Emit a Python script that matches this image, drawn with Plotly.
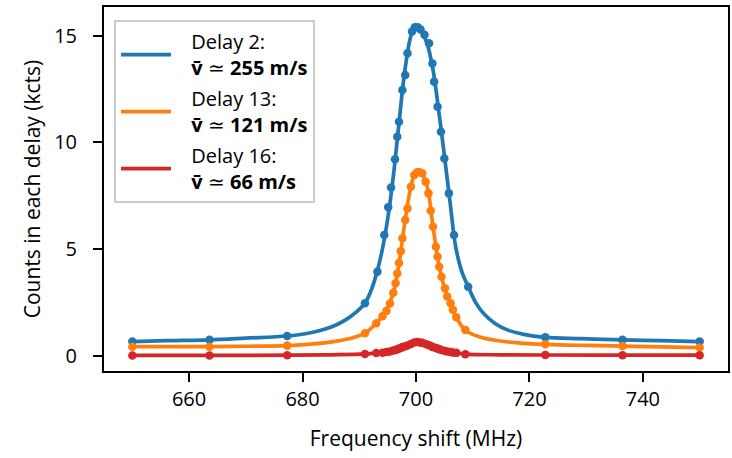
import plotly.graph_objects as go

# Measured spectra (frequency shift in MHz, counts in kcts)
freq_d2 = [650, 663.6, 677.3, 691.0, 693.2, 694.4, 695.1, 695.6, 696.3, 696.7, 697.0,
           697.6, 698.1, 698.5, 699.3, 699.8, 700.3, 700.8, 701.5, 702.3, 702.9, 703.2,
           703.8, 704.4, 705.0, 705.8, 706.7, 709.2, 722.8, 736.4, 750]
counts_d2 = [0.66, 0.74, 0.92, 2.46, 3.94, 5.66, 6.96, 7.88, 9.21, 10.27, 10.97,
             12.46, 13.16, 14.18, 15.2, 15.4, 15.4, 15.3, 15.05, 14.65, 13.7, 12.85,
             11.67, 10.50, 9.25, 7.61, 5.66, 3.23, 0.86, 0.74, 0.66]

freq_d13 = [650, 663.6, 677.3, 691.0, 693.0, 694.1, 694.8, 695.4, 696.0, 696.4, 696.7,
            697.0, 697.3, 697.6, 698.1, 698.5, 699.1, 699.7, 700.2, 700.7, 701.1, 701.7,
            702.2, 702.6, 703.0, 703.5, 703.8, 704.1, 704.5, 705.1, 705.5, 706.1, 706.5,
            707.1, 708.7, 722.8, 736.4, 750]
counts_d13 = [0.42, 0.42, 0.47, 1.05, 1.52, 1.85, 2.10, 2.45, 2.95, 3.40, 3.85,
              4.35, 4.90, 5.50, 6.36, 6.90, 7.92, 8.47, 8.60, 8.60, 8.55, 8.16,
              7.61, 6.80, 6.05, 5.11, 4.64, 4.17, 3.70, 3.16, 2.77, 2.46, 2.15,
              1.80, 1.20, 0.53, 0.45, 0.38]

freq_d16 = freq_d13
counts_d16 = [0.01, 0.01, 0.02, 0.08, 0.12, 0.14, 0.17, 0.20, 0.24, 0.27, 0.30,
              0.33, 0.36, 0.40, 0.44, 0.48, 0.55, 0.62, 0.64, 0.62, 0.60, 0.55,
              0.50, 0.45, 0.40, 0.36, 0.33, 0.30, 0.27, 0.22, 0.20, 0.17, 0.15,
              0.13, 0.07, 0.03, 0.02, 0.02]

# Fitted line profiles, sampled along each curve
fit_x_d2 = [650, 656, 663.6, 670, 677.3, 681, 684, 686, 688, 689.5, 691, 692, 693, 694,
            695, 696, 697, 698, 699, 699.7, 700.3, 701, 702, 703, 704, 705, 706, 707,
            708, 709.2, 710.5, 712, 714, 716, 719, 722.8, 729, 736.4, 743, 750]
fit_y_d2 = [0.66, 0.70, 0.74, 0.82, 0.92, 1.05, 1.25, 1.45, 1.75, 2.05, 2.46, 3.0, 3.8, 4.9,
            6.4, 8.4, 10.9, 13.3, 14.9, 15.4, 15.45, 15.2, 14.6, 13.4, 11.5, 9.4, 7.2, 5.1,
            4.0, 3.23, 2.5, 1.95, 1.5, 1.22, 1.0, 0.86, 0.8, 0.74, 0.7, 0.66]

fit_x_d13 = [650, 663.6, 670, 677.3, 682, 686, 689, 691, 693, 694.5, 696, 697, 698,
             699, 699.7, 700.4, 701.1, 702, 703, 704, 705, 706, 707, 708.7, 711, 714,
             718, 722.8, 730, 736.4, 750]
fit_y_d13 = [0.42, 0.42, 0.44, 0.47, 0.55, 0.68, 0.85, 1.05, 1.52, 2.0, 2.95, 4.3, 6.2,
             7.8, 8.45, 8.62, 8.5, 7.9, 6.05, 4.3, 3.2, 2.5, 1.85, 1.2, 0.9, 0.72,
             0.6, 0.53, 0.48, 0.45, 0.38]

fit_x_d16 = [650, 663.6, 677.3, 685, 691, 694, 696, 698, 699.5, 700.3, 701, 702.5,
             704, 706, 708.7, 715, 722.8, 736.4, 750]
fit_y_d16 = [0.01, 0.01, 0.02, 0.04, 0.08, 0.15, 0.25, 0.43, 0.58, 0.64, 0.61, 0.47,
             0.31, 0.17, 0.07, 0.04, 0.03, 0.02, 0.02]

PAD = "\u2002\u2009\u200a"
labels = [
    f"{PAD}Delay 2:<br>{PAD}<b>v\u0304</b> \u2243 <b>255 m/s</b>",
    f"{PAD}Delay 13:<br>{PAD}<b>v\u0304</b> \u2243 <b>121 m/s</b>",
    f"{PAD}Delay 16:<br>{PAD}<b>v\u0304</b> \u2243 <b>66 m/s</b>",
]
colors = ["#1f77b4", "#ff7f0e", "#d62728"]
data = [(freq_d2, counts_d2), (freq_d13, counts_d13), (freq_d16, counts_d16)]
fits = [(fit_x_d2, fit_y_d2), (fit_x_d13, fit_y_d13), (fit_x_d16, fit_y_d16)]

x_ticks = [660, 680, 700, 720, 740]
y_ticks = [0, 5, 10, 15]

FONT = "Open Sans"

fig = go.Figure()
for i in range(3):
    fx, fy = fits[i]
    xs, ys = data[i]
    fig.add_trace(go.Scatter(
        x=fx, y=fy, name=labels[i], mode="lines",
        line=dict(color=colors[i], width=3.7, shape="spline", smoothing=1.0),
        legendgroup=f"g{i}",
    ))
    fig.add_trace(go.Scatter(
        x=xs, y=ys, mode="markers", showlegend=False,
        marker=dict(color=colors[i], size=8.5),
        legendgroup=f"g{i}", hoverinfo="x+y",
    ))

axis_common = dict(
    showline=True, mirror=True, linecolor="black", linewidth=2,
    ticks="outside", ticklen=9, tickwidth=2, tickcolor="black",
    showgrid=False, zeroline=False,
    tickfont=dict(family=FONT, size=20, color="black"),
    title_font=dict(family=FONT, size=21, color="black"),
)

fig.update_layout(
    width=732, height=458,
    margin=dict(l=104, r=2, t=7, b=87),
    paper_bgcolor="white", plot_bgcolor="white",
    font=dict(family=FONT, size=20, color="black"),
    xaxis=dict(range=[645, 755], tickvals=x_ticks, title_text="Frequency shift (MHz)",
               title_standoff=20, **axis_common),
    yaxis=dict(range=[-0.72, 16.35], tickvals=y_ticks, title_text="Counts in each delay (kcts)",
               title_standoff=8, ticklabelstandoff=12, **axis_common),
    legend=dict(
        x=0.016, y=0.964, xanchor="left", yanchor="top",
        bgcolor="rgba(255,255,255,0.9)", bordercolor="#cccccc", borderwidth=2,
        font=dict(family=FONT, size=20, color="black"),
        tracegroupgap=2, itemwidth=50,
    ),
    showlegend=True,
)

fig.write_html("out.html")
